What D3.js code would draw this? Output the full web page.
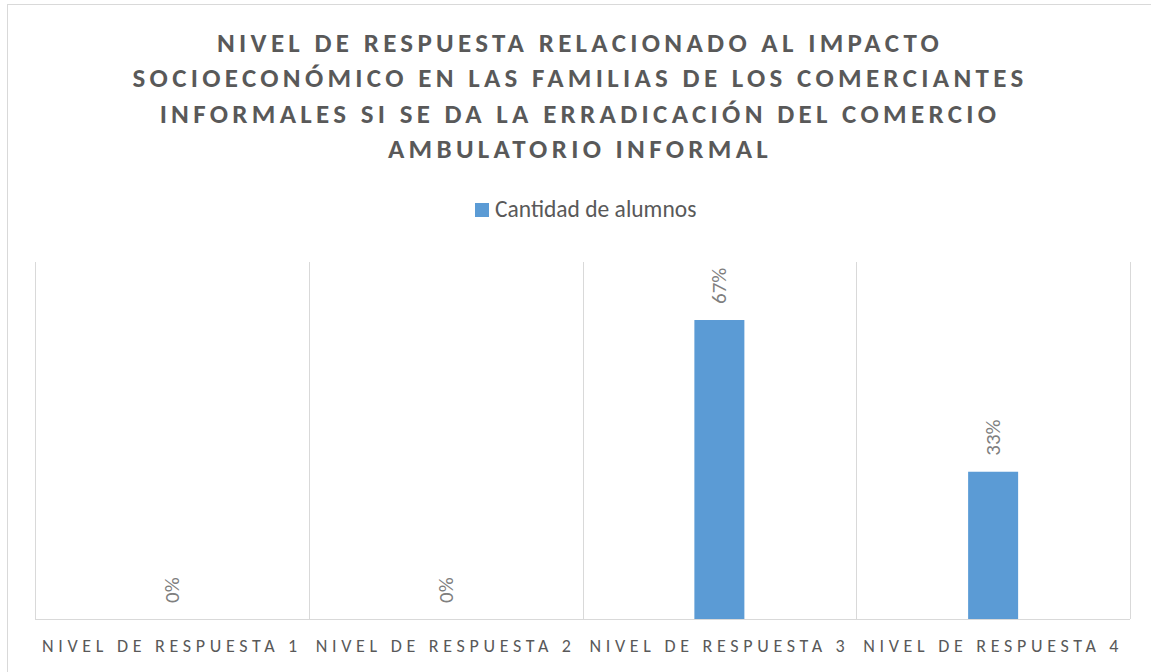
<!DOCTYPE html>
<html>
<head>
<meta charset="utf-8">
<script src="https://cdn.jsdelivr.net/npm/d3@7"></script>
<style>
  body { margin: 0; background: #fff; }
  svg { display: block; }
</style>
</head>
<body>
<svg class="svg"></svg>
<script>
// data
var categories = ['NIVEL DE RESPUESTA 1', 'NIVEL DE RESPUESTA 2', 'NIVEL DE RESPUESTA 3', 'NIVEL DE RESPUESTA 4'];
var values = [0, 0, 0.67, 0.33];
var seriesName = 'Cantidad de alumnos';
var titleLines = [
  'NIVEL DE RESPUESTA RELACIONADO AL IMPACTO',
  'SOCIOECONÓMICO EN LAS FAMILIAS DE LOS COMERCIANTES',
  'INFORMALES SI SE DA LA ERRADICACIÓN DEL COMERCIO',
  'AMBULATORIO INFORMAL'
];

var W = 1151, H = 672;
var margin = { top: 262, right: 21, bottom: 53, left: 35 },
    width = W - margin.left - margin.right,
    height = H - margin.top - margin.bottom;

var font = 'Carlito, Calibri, "Open Sans", sans-serif';
var grey = '#595959';

var svg = d3.select('.svg').attr('width', W).attr('height', H);

// chart frame (right and bottom edges fall outside the picture)
svg.append('rect')
    .attr('x', 7.5).attr('y', 4.5)
    .attr('width', 1160).attr('height', 680)
    .attr('fill', '#fff')
    .attr('stroke', '#d9d9d9');

// title
svg.append('text')
    .attr('text-anchor', 'middle')
    .attr('font-family', font)
    .attr('font-weight', 'bold')
    .attr('font-size', '27px')
    .attr('letter-spacing', '4.3px')
    .attr('fill', grey)
    .selectAll('tspan')
    .data(titleLines)
    .enter()
    .append('tspan')
    .attr('x', 580)
    .attr('y', function(d, i) { return 52 + i * 35.3; })
    .text(function(d) { return d; });

// legend
svg.append('rect')
    .attr('x', 475).attr('y', 203)
    .attr('width', 14).attr('height', 14)
    .attr('fill', '#5b9bd5');
svg.append('text')
    .attr('x', 495).attr('y', 217)
    .attr('font-family', font)
    .attr('font-size', '23.5px')
    .attr('fill', grey)
    .text(seriesName);

var g = svg.append('g')
    .attr('transform', 'translate(' + margin.left + ',' + margin.top + ')');

var x = d3.scaleBand()
    .domain(categories)
    .range([0, width]);

var y = d3.scaleLinear()
    .domain([0, 0.8])
    .range([height, 0]);

// vertical gridlines at category boundaries
var bounds = categories.map(function(c) { return x(c); }).concat([width]);
g.selectAll('.grid')
    .data(bounds)
    .enter()
    .append('line')
    .attr('class', 'grid')
    .attr('x1', function(d) { return Math.round(d) + 0.5; })
    .attr('x2', function(d) { return Math.round(d) + 0.5; })
    .attr('y1', 0)
    .attr('y2', height)
    .attr('stroke', '#d9d9d9');

// bars
var barW = 50;
g.selectAll('.bar')
    .data(values)
    .enter()
    .append('rect')
    .attr('class', 'bar')
    .attr('x', function(d, i) { return x(categories[i]) + x.bandwidth() / 2 - barW / 2; })
    .attr('y', function(d) { return y(d); })
    .attr('width', barW)
    .attr('height', function(d) { return height - y(d); })
    .attr('fill', '#5b9bd5');

// x axis
var xAxis = d3.axisBottom(x).tickSize(0).tickPadding(20);
var ax = g.append('g')
    .attr('transform', 'translate(0,' + height + ')')
    .call(xAxis);
ax.select('.domain').attr('stroke', '#d9d9d9').attr('d', 'M0,0.5H' + width);
ax.selectAll('text')
    .attr('font-family', font)
    .attr('font-size', '18px')
    .attr('letter-spacing', '4.7px')
    .attr('fill', grey);

// data labels
g.selectAll('.label')
    .data(values)
    .enter()
    .append('text')
    .attr('class', 'label')
    .attr('transform', function(d, i) {
        var cx = x(categories[i]) + x.bandwidth() / 2 + 7;
        return 'translate(' + cx + ',' + (y(d) - 16) + ') rotate(-90)';
    })
    .attr('font-family', font)
    .attr('font-size', '21px')
    .attr('fill', '#7f7f7f')
    .text(function(d) { return Math.round(d * 100) + '%'; });
</script>
</body>
</html>
